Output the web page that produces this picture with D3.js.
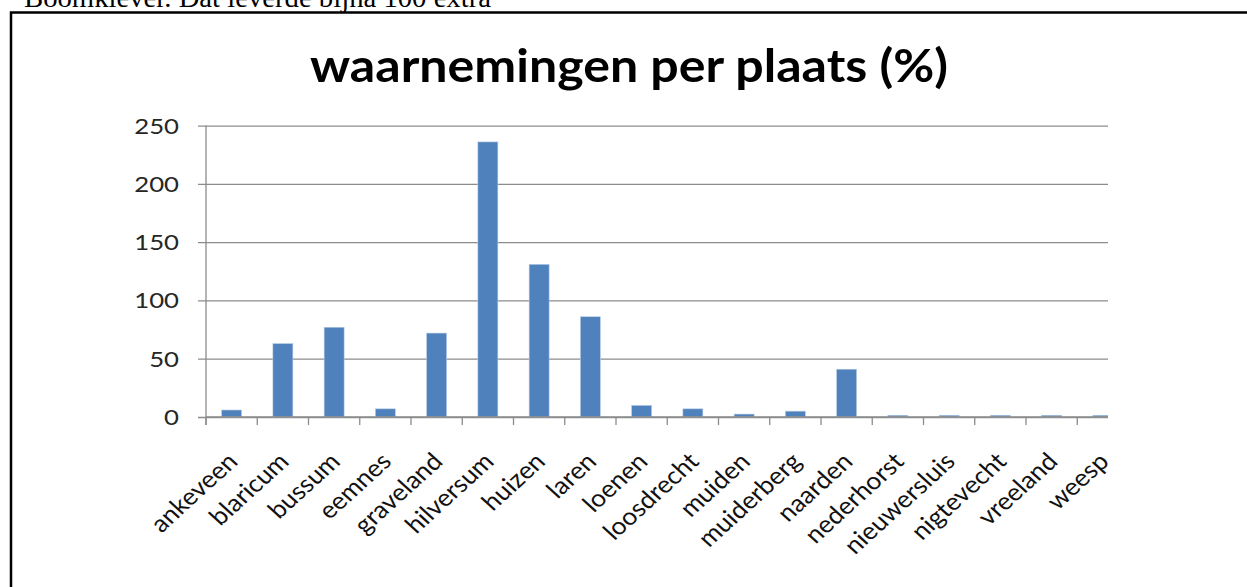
<!DOCTYPE html>
<html>
<head>
<meta charset="utf-8">
<script src="https://cdn.jsdelivr.net/npm/d3@7"></script>
<style>
  html, body { margin: 0; padding: 0; background: #fff; }
  svg { display: block; }
</style>
</head>
<body>
<div id="chart"></div>
<script>
const places = ["ankeveen", "blaricum", "bussum", "eemnes", "graveland", "hilversum",
    "huizen", "laren", "loenen", "loosdrecht", "muiden", "muiderberg", "naarden",
    "nederhorst", "nieuwersluis", "nigtevecht", "vreeland", "weesp"];
const percentages = [6, 63, 77, 7, 72, 236, 131, 86, 10, 7, 2.5, 5, 41, 1.5, 1.5, 1.5, 1.5, 1.5];
const yTicks = [0, 50, 100, 150, 200, 250];
const titleText = "waarnemingen per plaats (%)";
const pageText = "Boomklever. Dat leverde bijna 100 extra";

const width = 1247, height = 587;
const left = 206, zeroY = 417, topY = 125.6;
const band = 51.25;
const clipRight = 1108;
const stretch = 1.17;      // de grafiek is in het document breder getrokken
const labelStretch = 1.1;

const svg = d3.select("#chart").append("svg")
    .attr("width", width)
    .attr("height", height);

// stukje lopende tekst boven het kader
svg.append("text")
    .attr("x", 24).attr("y", 7)
    .attr("font-family", "Liberation Serif, Times New Roman, serif")
    .attr("font-size", 28)
    .attr("textLength", 467)
    .attr("lengthAdjust", "spacingAndGlyphs")
    .attr("fill", "#000")
    .text(pageText);

// kader
svg.append("rect")
    .attr("x", 11).attr("y", 12.5)
    .attr("width", width + 20).attr("height", height + 20)
    .attr("fill", "none")
    .attr("stroke", "#000")
    .attr("stroke-width", 2.5);

svg.append("text")
    .attr("x", 310).attr("y", 82)
    .attr("font-family", "Lato, 'Open Sans', sans-serif")
    .attr("font-weight", "bold")
    .attr("font-size", 46)
    .attr("textLength", 638)
    .attr("lengthAdjust", "spacingAndGlyphs")
    .attr("fill", "#000")
    .text(titleText);

const x = d3.scaleBand()
    .domain(places)
    .range([left, left + band * places.length])
    .paddingInner(0.61)
    .paddingOuter(0.305);

const y = d3.scaleLinear()
    .domain([0, 250])
    .range([zeroY, topY]);

svg.append("defs").append("clipPath").attr("id", "plot-clip")
    .append("rect")
    .attr("x", 0).attr("y", 0)
    .attr("width", clipRight).attr("height", height);

const gPlot = svg.append("g").attr("clip-path", "url(#plot-clip)");

// rasterlijnen
gPlot.append("g")
    .attr("transform", `translate(${left},0)`)
    .call(d3.axisLeft(y).tickValues(yTicks).tickSize(-(band * places.length)).tickFormat(""))
    .call(g => g.select(".domain").remove())
    .call(g => g.selectAll(".tick line")
        .attr("stroke", "#8c8c8c")
        .attr("stroke-width", 1.3)
        .attr("x1", -8));

gPlot.append("g").selectAll("rect")
    .data(places)
    .enter()
    .append("rect")
    .attr("x", d => x(d))
    .attr("y", (d, i) => y(percentages[i]))
    .attr("width", x.bandwidth())
    .attr("height", (d, i) => zeroY - y(percentages[i]))
    .attr("fill", "#4f81bd")
    .attr("stroke", "#b9cde5")
    .attr("stroke-width", 0.6);

// x-as
const boundaries = places.map((d, i) => left + i * band);
gPlot.append("line")
    .attr("x1", left).attr("x2", left + band * places.length)
    .attr("y1", zeroY).attr("y2", zeroY)
    .attr("stroke", "#8c8c8c").attr("stroke-width", 1.3);
gPlot.append("g").selectAll("line")
    .data(boundaries)
    .enter()
    .append("line")
    .attr("x1", d => d).attr("x2", d => d)
    .attr("y1", zeroY).attr("y2", zeroY + 8)
    .attr("stroke", "#8c8c8c").attr("stroke-width", 1.3);

// y-as
svg.append("line")
    .attr("x1", left).attr("x2", left)
    .attr("y1", topY).attr("y2", zeroY + 8)
    .attr("stroke", "#8c8c8c").attr("stroke-width", 1.3);

svg.append("g").selectAll("text")
    .data(yTicks)
    .enter()
    .append("text")
    .attr("transform", d => `translate(179,${y(d)}) scale(${stretch},1)`)
    .attr("dy", "0.36em")
    .attr("text-anchor", "end")
    .attr("font-family", "Lato, 'Open Sans', sans-serif")
    .attr("font-size", 22)
    .attr("fill", "#262626")
    .text(d => d);

svg.append("g").selectAll("text")
    .data(places)
    .enter()
    .append("text")
    .attr("transform", d => `translate(${x(d) + x.bandwidth() / 2 + 1},${zeroY + 40}) scale(${labelStretch},1) rotate(-45)`)
    .attr("text-anchor", "end")
    .attr("dy", "0.35em")
    .attr("font-family", "Lato, 'Open Sans', sans-serif")
    .attr("font-size", 24)
    .attr("fill", "#111")
    .text(d => d);
</script>
</body>
</html>
